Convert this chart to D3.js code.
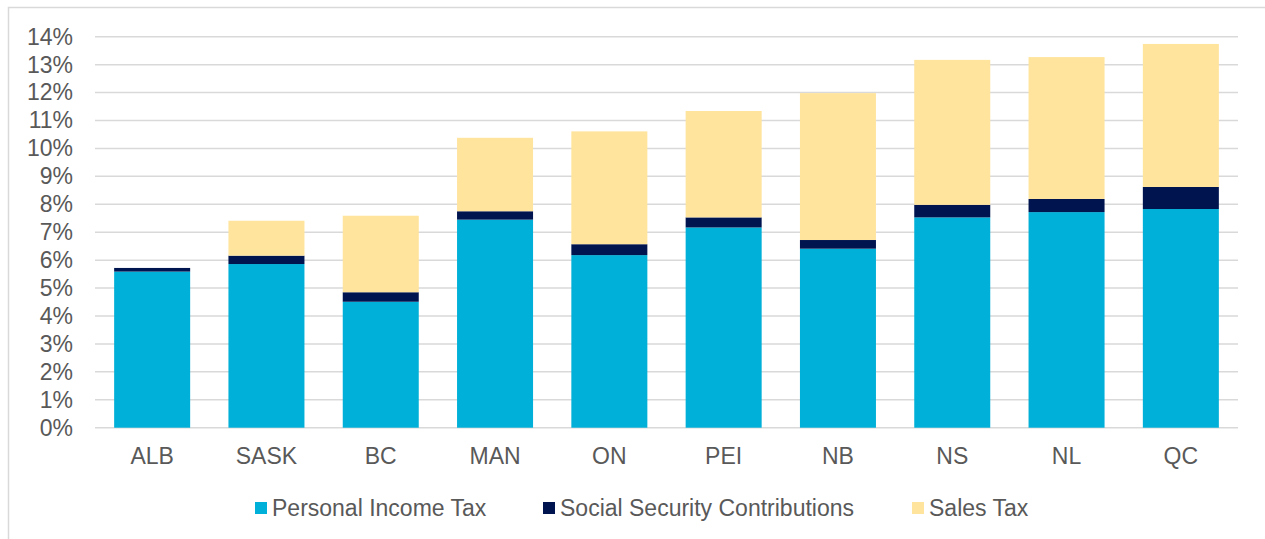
<!DOCTYPE html>
<html>
<head>
<meta charset="utf-8">
<script src="https://cdn.jsdelivr.net/npm/d3@7"></script>
<style>
  html, body { margin: 0; padding: 0; background: #fff; }
  svg { display: block; }
  text { font-family: "Liberation Sans", Arial, sans-serif; fill: #595959; }
</style>
</head>
<body>
<svg id="chart" width="1265" height="539"></svg>
<script>
// ---- Data ----
const categories = ["ALB", "SASK", "BC", "MAN", "ON", "PEI", "NB", "NS", "NL", "QC"];
const seriesNames = ["Personal Income Tax", "Social Security Contributions", "Sales Tax"];
const personalIncomeTax = [5.59, 5.86, 4.51, 7.45, 6.18, 7.17, 6.41, 7.53, 7.72, 7.83];
const socialSecurity    = [0.13, 0.30, 0.34, 0.30, 0.39, 0.36, 0.31, 0.45, 0.47, 0.79];
const salesTax          = [0.00, 1.25, 2.74, 2.63, 4.04, 3.81, 5.26, 5.19, 5.08, 5.12];
const yTicks = [0, 1, 2, 3, 4, 5, 6, 7, 8, 9, 10, 11, 12, 13, 14];
const colors = ["#00B0D8", "#001450", "#FFE49D"];

// ---- Build table ----
const keys = ["pit", "ssc", "sales"];
const table = categories.map((c, i) => ({
  cat: c, pit: personalIncomeTax[i], ssc: socialSecurity[i], sales: salesTax[i]
}));
const stacked = d3.stack().keys(keys)(table);

const svg = d3.select("#chart");

// outer frame
svg.append("rect")
  .attr("x", 8.5).attr("y", 7.5)
  .attr("width", 1400).attr("height", 700)
  .attr("fill", "none").attr("stroke", "#d9d9d9").attr("stroke-width", 1.5);

const plotLeft = 95, plotRight = 1238, plotTop = 36.7, plotBottom = 427.7;

const x = d3.scaleBand().domain(categories).range([plotLeft, plotRight])
  .paddingInner(0.335).paddingOuter(0.1675);
const y = d3.scaleLinear().domain([0, 14]).range([plotBottom, plotTop]);

// gridlines
svg.append("g").selectAll("line").data(yTicks).join("line")
  .attr("x1", plotLeft).attr("x2", plotRight)
  .attr("y1", d => y(d)).attr("y2", d => y(d))
  .attr("stroke", "#d9d9d9").attr("stroke-width", 1.5);

// y axis labels
const yAxis = d3.axisLeft(y).tickValues(yTicks).tickFormat(d => d + "%").tickSize(0).tickPadding(0);
const yg = svg.append("g").attr("transform", `translate(73,0)`).call(yAxis);
yg.select(".domain").remove();
yg.selectAll("text").attr("font-size", 23).attr("fill", "#595959")
  .attr("font-family", '"Liberation Sans", Arial, sans-serif');

// bars
svg.append("g").selectAll("g").data(stacked).join("g")
  .attr("fill", (d, i) => colors[i])
  .selectAll("rect").data(d => d).join("rect")
  .attr("x", d => x(d.data.cat))
  .attr("width", x.bandwidth())
  .attr("y", d => y(d[1]))
  .attr("height", d => Math.max(0, y(d[0]) - y(d[1])));

// x axis labels
const xAxis = d3.axisBottom(x).tickSize(0).tickPadding(0);
const xg = svg.append("g").attr("transform", `translate(0,${plotBottom + 20})`).call(xAxis);
xg.select(".domain").remove();
xg.selectAll("text").attr("font-size", 23).attr("fill", "#595959")
  .attr("font-family", '"Liberation Sans", Arial, sans-serif');

// legend
const legendX = [255, 543, 912];
const lg = svg.append("g").selectAll("g").data(seriesNames).join("g")
  .attr("transform", (d, i) => `translate(${legendX[i]},508)`);
lg.append("rect").attr("x", 0).attr("y", -6).attr("width", 12).attr("height", 12)
  .attr("fill", (d, i) => colors[i]);
lg.append("text").attr("x", 17).attr("y", 0).attr("dy", "0.35em")
  .attr("font-size", 23).text(d => d);
</script>
</body>
</html>
